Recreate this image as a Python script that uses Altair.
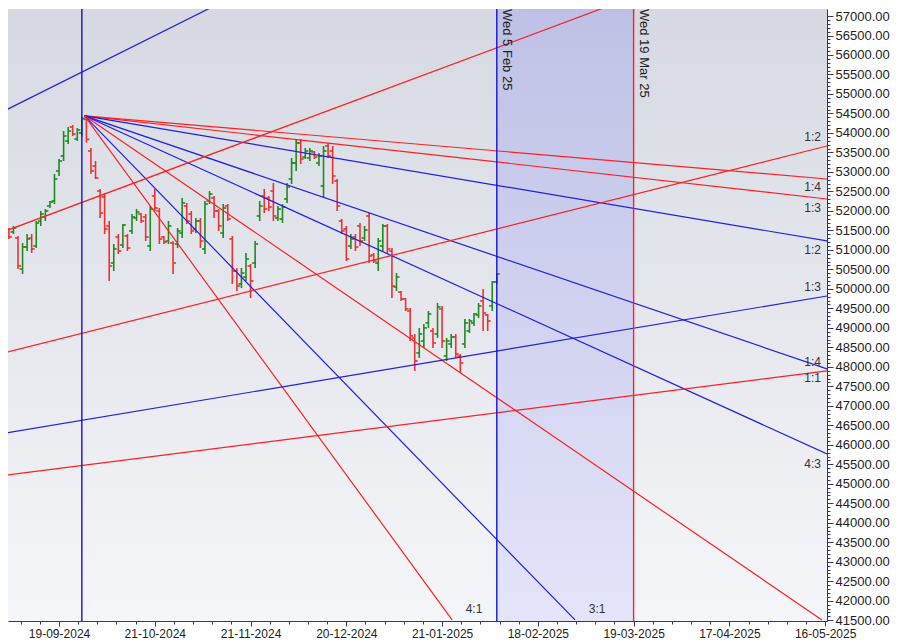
import altair as alt
import pandas as pd

# ---------------- data ----------------
dates = ["02-09-2024","03-09-2024","04-09-2024","05-09-2024","06-09-2024","09-09-2024","10-09-2024","11-09-2024",
         "12-09-2024","13-09-2024","16-09-2024","17-09-2024","18-09-2024","19-09-2024","20-09-2024","23-09-2024",
         "24-09-2024","25-09-2024","26-09-2024","27-09-2024","30-09-2024","01-10-2024","03-10-2024","04-10-2024",
         "07-10-2024","08-10-2024","09-10-2024","10-10-2024","11-10-2024","14-10-2024","15-10-2024","16-10-2024",
         "17-10-2024","18-10-2024","21-10-2024","22-10-2024","23-10-2024","24-10-2024","25-10-2024","28-10-2024",
         "29-10-2024","30-10-2024","31-10-2024","01-11-2024","04-11-2024","05-11-2024","06-11-2024","07-11-2024",
         "08-11-2024","11-11-2024","12-11-2024","13-11-2024","14-11-2024","18-11-2024","19-11-2024","21-11-2024",
         "22-11-2024","25-11-2024","26-11-2024","27-11-2024","28-11-2024","29-11-2024","02-12-2024","03-12-2024",
         "04-12-2024","05-12-2024","06-12-2024","09-12-2024","10-12-2024","11-12-2024","12-12-2024","13-12-2024",
         "16-12-2024","17-12-2024","18-12-2024","19-12-2024","20-12-2024","23-12-2024","24-12-2024","26-12-2024",
         "27-12-2024","30-12-2024","31-12-2024","01-01-2025","02-01-2025","03-01-2025","06-01-2025","07-01-2025",
         "08-01-2025","09-01-2025","10-01-2025","13-01-2025","14-01-2025","15-01-2025","16-01-2025","17-01-2025",
         "20-01-2025","21-01-2025","22-01-2025","23-01-2025","24-01-2025","27-01-2025","28-01-2025","29-01-2025",
         "30-01-2025","31-01-2025","01-02-2025","03-02-2025","04-02-2025","05-02-2025"]

opens = [51486,51486,51511,51460,51306,50510,51075,51306,51101,51742,51845,52127,52255,53024,53409,53794,
         54153,53845,54000,54350,53537,53153,52511,52357,51614,50664,51332,51126,51358,51486,51819,51921,
         51845,51101,52383,51998,51332,51229,51178,51152,51434,52127,51921,51537,51742,51024,52255,52332,
         51998,51434,52127,51280,50459,50126,50305,50588,50664,51870,52383,52332,52511,51819,51793,52306,
         52819,53230,53743,53383,53358,53512,53230,52640,53666,53537,52768,51742,51537,51101,51332,51614,
         51306,51870,50870,50664,51101,51614,50972,50049,49920,49741,49433,48741,48357,48664,49126,48921,
         48844,49485,48279,48587,48767,48279,48587,48921,49126,49331,49690,49331,49562,50177]
highs = [51742,51665,51562,51614,51358,51178,51409,51409,51742,51998,52050,52255,52947,53332,54050,54153,
         54204,54127,54400,54467,53614,53281,52563,52460,51742,51152,51409,51665,51409,51921,52050,51947,
         51921,52127,52563,52075,51358,51742,51229,51562,52332,52204,51998,51819,51819,52255,52511,52383,
         52050,52178,52178,51358,50536,50536,50921,50639,51229,52255,52563,52383,52717,52127,52178,52717,
         53358,53845,53845,53614,53614,53537,53486,53666,53743,53666,52819,51793,51614,51409,51409,51691,
         51614,51947,50921,51306,51665,51665,51049,50408,49946,49767,49510,48844,48998,49100,49433,48998,
         49639,49562,48741,48844,48844,48330,49228,49228,49382,49639,49997,49357,50203,50408]
lows = [51409,51434,51280,51409,50510,50382,50972,50921,51049,51614,51742,52075,52178,52896,53281,53717,
        53922,53794,53900,53750,52947,52819,51819,51409,50203,50459,50895,51049,50972,51409,51742,51691,
        51229,50972,51998,51152,51152,51152,50382,51049,51306,51665,51409,51434,51049,50895,52178,51819,
        51486,51306,51742,50126,49946,50023,50203,49767,50536,51742,51947,51998,51742,51742,51691,52204,
        52691,53024,53204,53332,53281,53332,53153,52332,53358,52691,51998,51409,50716,51024,50972,51101,
        51229,50664,50664,50459,50972,50895,49767,49946,49690,49433,48664,47895,48228,48484,48998,48484,
        48741,48484,48151,48484,48228,47844,48484,48870,49049,49254,48921,48921,49433,50126]
closes = [51691,51614,51332,51562,50588,51075,51280,51024,51691,51921,51998,52229,52819,53281,53922,54050,
          53973,54076,54375,53834,53024,52845,51947,51537,50588,51024,50972,51640,51049,51845,51973,51742,
          51332,52050,52075,51280,51204,51614,50664,51486,52204,51742,51486,51742,51229,52178,52434,51998,
          51614,52075,51793,50459,50075,50408,50767,50203,51152,52127,52050,52101,51870,52050,52101,52614,
          53230,53743,53332,53537,53537,53383,53409,53537,53409,52896,52127,51486,50767,51280,51075,51229,
          51511,50844,50716,51229,51614,51024,50075,50305,49741,49485,48793,48151,48844,48998,49357,48613,
          49536,48664,48664,48767,48330,48100,49126,49177,49357,49562,49382,49177,50177,50382]

# x axis: positions are bar numbers (trading days), labels every 21 bars
tick_pos = [13, 34, 55, 76, 97, 118, 139, 160, 181]
tick_labels = ["19-09-2024", "21-10-2024", "21-11-2024", "20-12-2024", "21-01-2025",
               "18-02-2025", "19-03-2025", "17-04-2025", "16-05-2025"]

# Gann lines: name, colour, start (bar, price), end (bar, price)
line_names  = ["d14", "d13", "d12b", "d14b", "d43b", "d11", "d31b", "d41",
               "a_b1", "a_r1", "a_r2", "a_b2", "a_r3"]
line_colors = ["#ff2020", "#ff2020", "#1f1fe6", "#1f1fe6", "#1f1fe6", "#ff2020", "#1f1fe6", "#ff2020",
               "#1f1fe6", "#ff2020", "#ff2020", "#1f1fe6", "#ff2020"]
line_x0 = [18.6, 18.6, 18.6, 18.6, 18.6, 18.6, 18.6, 18.6, 0.05, 0.05, 0.05, 0.05, 0.05]
line_p0 = [54440, 54440, 54440, 54440, 54440, 54440, 54440, 54440, 54512, 51434, 48330, 46278, 45201]
line_x1 = [181.41, 181.41, 181.41, 181.41, 181.41, 180.3, 126.15, 99.2, 49.2, 136.45, 181.41, 181.41, 181.41]
line_p1 = [52819, 52306, 51229, 47946, 45766, 41507, 41507, 41507, 57385, 57385, 53666, 49818, 47895]

# vertical marker lines
vline_x = [18, 109, 139]
vline_colors = ["#1010e0", "#1010e0", "#ff2020"]
vtext = ["Wed 5 Feb 25", "Wed 19 Mar 25"]
vtext_x = [109, 139]

# ratio labels
rlab_text = ["1:2", "1:4", "1:3", "1:2", "1:3", "1:4", "1:1", "4:3"]
rlab_price = [53896, 52614, 52075, 50998, 50049, 48125, 47715, 45509]
blab_text = ["4:1", "3:1"]
blab_x = [104.0, 131.0]

# ---------------- layout ----------------
XMIN, XMAX = 1.807, 181.41
YMIN, YMAX = 41480, 57180
W, H = 819, 612
NAVY = "#33338a"
FONT = "Liberation Sans"

bars = pd.DataFrame({"i": list(range(len(opens))), "date": dates, "open": opens,
                     "high": highs, "low": lows, "close": closes})
bars["dir"] = ["up" if c >= o else "down" for o, c in zip(opens, closes)]

minor = []
for m in [tick_pos[0] - 21] + tick_pos:
    for j in range(1, 5):
        v = round(m + 4.2 * j, 2)
        if XMIN <= v <= XMAX:
            minor.append(v)
x_values = sorted(tick_pos + minor)
maj = "[" + ",".join(str(v) for v in tick_pos) + "]"
labs = "[" + ",".join("'" + s + "'" for s in tick_labels) + "]"
x_label_expr = f"indexof({maj}, datum.value) >= 0 ? {labs}[indexof({maj}, datum.value)] : ''"

xs = alt.Scale(domain=[XMIN, XMAX], nice=False, zero=False)
ys = alt.Scale(domain=[YMIN, YMAX], nice=False, zero=False)

x_axis = alt.Axis(values=x_values, labelExpr=x_label_expr, grid=False, orient="bottom",
                  domainColor=NAVY, tickColor=NAVY, labelColor="#222222", labelFontSize=12,
                  labelFont=FONT, labelPadding=2, labelOverlap=False, labelFlush=False,
                  tickSize={"condition": {"test": f"indexof({maj}, datum.value) >= 0", "value": 5}, "value": 3},
                  title=None)
y_axis = alt.Axis(values=list(range(41500, 57001, 100)),
                  labelExpr="datum.value % 500 === 0 ? format(datum.value, '.2f') : ''",
                  grid=False, orient="right", domainColor=NAVY, tickColor=NAVY,
                  labelColor="#222222", labelFontSize=13, labelFont=FONT, labelPadding=2,
                  labelOverlap=False, labelFlush=False,
                  tickSize={"condition": {"test": "datum.value % 500 === 0", "value": 6}, "value": 3},
                  title=None)

def X(field):
    return alt.X(field, scale=xs, axis=x_axis, title=None)

def Y(field):
    return alt.Y(field, scale=ys, axis=y_axis, title=None)

bg_grad = alt.Gradient(gradient="linear",
                       stops=[alt.GradientStop(color="#d6d9e2", offset=0),
                              alt.GradientStop(color="#f5f6f9", offset=1)],
                       x1=0, x2=0, y1=0, y2=1)
band_grad = alt.Gradient(gradient="linear",
                         stops=[alt.GradientStop(color="#bec1e5", offset=0),
                                alt.GradientStop(color="#e4e4fa", offset=1)],
                         x1=0, x2=0, y1=0, y2=1)

bg = alt.Chart(pd.DataFrame({"x0": [XMIN], "x1": [XMAX], "y0": [YMIN], "y1": [YMAX]})).mark_rect(
    fill=bg_grad).encode(x=X("x0:Q"), x2="x1:Q", y=Y("y0:Q"), y2="y1:Q")

band = alt.Chart(pd.DataFrame({"x0": [vline_x[1]], "x1": [vline_x[2]], "y0": [YMIN], "y1": [YMAX]})).mark_rect(
    fill=band_grad).encode(x=X("x0:Q"), x2="x1:Q", y=Y("y0:Q"), y2="y1:Q")

col = alt.Color("dir:N", scale=alt.Scale(domain=["up", "down"], range=["#1f8a1f", "#f03030"]), legend=None)
base = alt.Chart(bars)
hl = base.mark_rule(strokeWidth=1.6, clip=True).encode(x=X("i:Q"), y=Y("low:Q"), y2="high:Q", color=col)
op = base.mark_rule(strokeWidth=1.6, clip=True, xOffset=-3, x2Offset=0).encode(
    x=X("i:Q"), x2="i:Q", y=Y("open:Q"), color=col)
cl = base.mark_rule(strokeWidth=1.6, clip=True, xOffset=0, x2Offset=3).encode(
    x=X("i:Q"), x2="i:Q", y=Y("close:Q"), color=col)

rows = []
for n, c, a0, p0, a1, p1 in zip(line_names, line_colors, line_x0, line_p0, line_x1, line_p1):
    rows.append({"name": n, "color": c, "x": a0, "p": p0, "o": 0})
    rows.append({"name": n, "color": c, "x": a1, "p": p1, "o": 1})
lines = alt.Chart(pd.DataFrame(rows)).mark_line(strokeWidth=1.2, clip=True).encode(
    x=X("x:Q"), y=Y("p:Q"), detail="name:N", order="o:Q", color=alt.Color("color:N", scale=None))

vl = alt.Chart(pd.DataFrame({"x": vline_x, "color": vline_colors})).mark_rule(strokeWidth=1.4).encode(
    x=X("x:Q"), color=alt.Color("color:N", scale=None))

vt = alt.Chart(pd.DataFrame({"x": vtext_x, "t": vtext, "p": [YMAX, YMAX]})).mark_text(
    angle=90, align="left", baseline="bottom", fontSize=13, font=FONT, color="#222222", dy=-3).encode(
    x=X("x:Q"), y=Y("p:Q"), text="t:N")

rl = alt.Chart(pd.DataFrame({"x": [180.1] * len(rlab_text), "t": rlab_text, "p": rlab_price})).mark_text(
    align="right", baseline="middle", fontSize=12, font=FONT, color="#333333").encode(
    x=X("x:Q"), y=Y("p:Q"), text="t:N")

bl = alt.Chart(pd.DataFrame({"x": blab_x, "t": blab_text, "p": [41790, 41790]})).mark_text(
    align="center", baseline="middle", fontSize=12, font=FONT, color="#333333").encode(
    x=X("x:Q"), y=Y("p:Q"), text="t:N")

chart = alt.layer(bg, band, hl, op, cl, lines, vl, vt, rl, bl).properties(
    width=W, height=H, padding={"left": 0, "top": 0, "right": 0, "bottom": 0}
).configure_view(strokeWidth=0).configure(font=FONT)

chart.save("out.html", embed_options={"renderer": "svg", "actions": False})
